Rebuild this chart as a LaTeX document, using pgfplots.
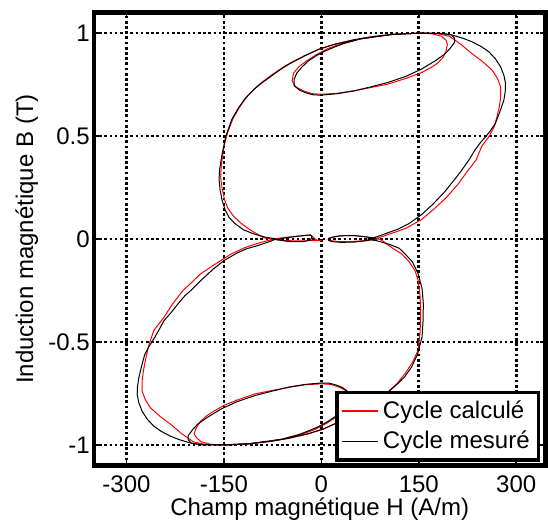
\documentclass[border=0pt]{standalone}
\usepackage{fontspec}
\setmainfont{Liberation Sans}
\usepackage{pgfplots}
\pgfplotsset{compat=1.18}
\definecolor{mred}{RGB}{255,0,0}
\begin{document}
\fontsize{18}{21.6}\selectfont
\begin{tikzpicture}
\useasboundingbox (-70.5pt,-41.6pt) rectangle (340.5pt,349.15pt);
\begin{axis}[
  at={(0pt,0pt)}, anchor=south west,
  scale only axis, width=338.6pt, height=339.75pt,
  xmin=-350, xmax=345, ymin=-1.1, ymax=1.1,
  axis line style={line width=3.3pt, black},
  tick align=inside, major tick length=4pt,
  tick style={black, line width=1.2pt},
  xtick={-300,-150,0,150,300}, xticklabels={-300,-150,0,150,300},
  ytick={-1,-0.5,0,0.5,1}, yticklabels={-1,-0.5,0,0.5,1},
  xticklabel style={inner sep=0pt, yshift=-7.1pt},
  yticklabel style={inner sep=0pt, xshift=-3pt},
  grid=major,
  major grid style={black, line width=2pt, dash pattern=on 2pt off 1.9pt},
  xlabel={Champ magnétique H (A/m)},
  ylabel={Induction magnétique B (T)},
  xlabel style={at={(axis description cs:0.5,0)}, anchor=base, yshift=-37.1pt},
  ylabel style={at={(axis description cs:-0.149,0.5)}, anchor=center},
  legend style={at={(rel axis cs:0.988,0.0088)}, anchor=south east,
    draw=black, line width=2.4pt, fill=white,
    nodes={inner sep=3.6pt}},
  legend cell align=left,
  legend image code/.code={\draw[#1, line width=0.8pt] (0pt,0pt) -- (27pt,0pt);},
]
% ---------------- Cycle calcule (red) ----------------
\addplot[mred, line width=0.75pt, line join=round] coordinates {
(-75,0.0) (-89,0.006) (-110,0.045) (-123,0.075) (-135,0.11) (-144,0.15)
(-149,0.19) (-153,0.25) (-155,0.3) (-154,0.36) (-150,0.45) (-144,0.52)
(-136,0.585) (-126,0.64) (-115,0.69) (-103,0.73) (-90,0.765) (-75,0.8)
(-60,0.832) (-45,0.86) (-25,0.892) (-5,0.92) (20,0.946) (50,0.968)
(80,0.984) (110,0.994) (150,1.0) (180,0.997) (197,0.985) (206,0.965)
(215,0.945) (232,0.9) (248,0.862) (263,0.82) (271,0.78) (276,0.739)
(276,0.69) (274,0.642) (270,0.59) (266,0.545) (258,0.497) (247,0.451)
(238,0.383) (225,0.33) (210,0.265) (192,0.2) (173,0.145) (154,0.094)
(130,0.052) (112,0.032) (102,0.021) (88,0.006) (80,0.0)
(88,0.0) (70,0.01) (52,0.016) (35,0.017) (22,0.012) (12,0.003) (11,-0.006)
(25,-0.012) (50,-0.012) (70,-0.006) (88,0.0)
(93,-0.006) (110,-0.045) (124,-0.073) (135,-0.11) (144,-0.153) (149,-0.2)
(152,-0.28) (153,-0.36) (152,-0.45) (149,-0.54) (140,-0.6) (129,-0.653)
(117,-0.7) (103,-0.742) (90,-0.77) (75,-0.8) (60,-0.832) (45,-0.86)
(25,-0.892) (5,-0.92) (-20,-0.946) (-50,-0.968) (-80,-0.984) (-110,-0.994)
(-150,-1.0) (-180,-0.997) (-197,-0.985) (-206,-0.965) (-215,-0.945)
(-232,-0.9) (-248,-0.862) (-263,-0.82) (-271,-0.78) (-276,-0.739)
(-276,-0.69) (-274,-0.642) (-271,-0.59) (-266,-0.52) (-258,-0.444)
(-243,-0.383) (-229,-0.315) (-213,-0.25) (-196,-0.2) (-186,-0.169)
(-165,-0.125) (-139,-0.073) (-118,-0.042) (-102,-0.025) (-88,-0.012)
(-77,-0.004) (-75,0.0)
(-58,0.007) (-40,0.013) (-25,0.017) (-16,0.018) (-12,0.008) (-8,-0.004)
(0,-0.008) (-15,-0.008) (-40,-0.009) (-60,-0.007) (-75,0.0)
};
\addlegendentry{Cycle calculé}
\addplot[mred, line width=0.75pt, line join=round, forget plot] coordinates {
(60,0.972) (110,0.994) (150,1.0) (170,0.997) (185,0.985) (192,0.965)
(194,0.945) (192,0.914) (188,0.885) (180,0.857) (170,0.835) (154,0.808)
(130,0.78) (102,0.752) (75,0.735) (50,0.72) (25,0.708) (0,0.703)
(-15,0.706) (-28,0.72) (-40,0.74) (-45,0.768) (-43,0.805) (-35,0.835)
(-25,0.86) (-8,0.895) (10,0.925) (30,0.948) (50,0.963) (60,0.972)
};
\addplot[mred, line width=0.75pt, line join=round, forget plot] coordinates {
(-60,-0.972) (-110,-0.994) (-150,-1.0) (-170,-0.997) (-185,-0.985)
(-192,-0.965) (-196,-0.945) (-192,-0.914) (-186,-0.885) (-176,-0.857)
(-165,-0.835) (-150,-0.808) (-128,-0.78) (-102,-0.752) (-75,-0.735)
(-50,-0.72) (-25,-0.708) (0,-0.703) (15,-0.706) (28,-0.72) (40,-0.74)
(45,-0.768) (43,-0.805) (35,-0.835) (25,-0.86) (8,-0.895) (-10,-0.925)
(-30,-0.948) (-50,-0.963) (-60,-0.972)
};
% ---------------- Cycle mesure (black) ----------------
\addplot[black, line width=0.75pt, line join=round] coordinates {
(-72,0.002) (-85,0.008) (-105,0.026) (-120,0.045) (-133,0.075) (-142,0.105)
(-148,0.14) (-153,0.19) (-156,0.24) (-157.5,0.29) (-156.5,0.34)
(-153,0.41) (-147,0.5) (-138,0.58) (-128,0.635) (-118,0.68) (-106,0.72)
(-95,0.75) (-82,0.78) (-69,0.81) (-55,0.84) (-40,0.866) (-22,0.895)
(-2,0.924) (20,0.945) (50,0.967) (80,0.983) (110,0.994) (150,1.0)
(185,0.998) (202,0.99) (218,0.975) (232,0.958) (246,0.935) (258,0.909)
(268,0.875) (276,0.836) (281,0.795) (283.5,0.756) (283,0.715) (281,0.675)
(275,0.62) (268,0.562) (260,0.525) (253,0.497) (244,0.465) (236,0.43)
(227,0.383) (215,0.33) (205,0.289) (190,0.23) (172,0.17) (154,0.118)
(135,0.075) (118,0.048) (102,0.03) (90,0.016) (80,0.006) (72,0.002)
(84,0.003) (70,0.01) (54,0.016) (40,0.017) (28,0.015) (18,0.01) (11,0.003)
(10.5,-0.004) (15,-0.012) (30,-0.016) (50,-0.015) (70,-0.008) (84,0.003)
(72,-0.002) (85,-0.008) (105,-0.026) (120,-0.045) (129,-0.073) (140,-0.11)
(149,-0.169) (155,-0.24) (157,-0.315) (156.5,-0.4) (155,-0.476)
(148,-0.56) (139,-0.621) (128,-0.67) (115,-0.71) (103,-0.742) (88,-0.775)
(72,-0.805) (55,-0.84) (40,-0.866) (22,-0.895) (2,-0.924) (-20,-0.945)
(-50,-0.967) (-80,-0.983) (-110,-0.994) (-150,-1.0) (-185,-0.998)
(-202,-0.99) (-218,-0.975) (-232,-0.958) (-246,-0.935) (-258,-0.909)
(-268,-0.875) (-276,-0.836) (-281,-0.795) (-283.5,-0.756) (-283,-0.715)
(-281,-0.675) (-277,-0.62) (-272,-0.562) (-265,-0.52) (-256,-0.475)
(-248,-0.43) (-242,-0.395) (-232,-0.36) (-222,-0.32) (-210,-0.275)
(-201,-0.25) (-185,-0.2) (-168,-0.15) (-150,-0.105) (-130,-0.068)
(-115,-0.047) (-98,-0.032) (-85,-0.018) (-76,-0.008) (-72,-0.002)
(-70,-0.003) (-55,0.006) (-40,0.012) (-25,0.018) (-17,0.02) (-14,0.012)
(-17,-0.006) (-30,-0.013) (-50,-0.012) (-70,-0.003) (-72,0.002)
};
\addlegendentry{Cycle mesuré}
\addplot[black, line width=0.75pt, line join=round, forget plot] coordinates {
(60,0.972) (110,0.994) (150,1.0) (185,0.999) (200,0.992) (205,0.975)
(205,0.955) (198,0.925) (190,0.898) (175,0.865) (154,0.825) (130,0.79)
(102,0.76) (75,0.738) (50,0.719) (25,0.706) (0,0.699) (-12,0.7)
(-22,0.708) (-33,0.722) (-42,0.745) (-42,0.775) (-38,0.805) (-30,0.835)
(-20,0.865) (-8,0.89) (5,0.912) (20,0.932) (35,0.95) (50,0.963) (60,0.972)
};
\addplot[black, line width=0.75pt, line join=round, forget plot] coordinates {
(-60,-0.972) (-110,-0.994) (-150,-1.0) (-185,-0.999) (-200,-0.992)
(-205,-0.975) (-205,-0.955) (-198,-0.925) (-190,-0.898) (-175,-0.865)
(-154,-0.825) (-130,-0.79) (-102,-0.76) (-75,-0.738) (-50,-0.719)
(-25,-0.706) (0,-0.699) (12,-0.7) (22,-0.708) (33,-0.722) (42,-0.745)
(42,-0.775) (38,-0.805) (30,-0.835) (20,-0.865) (8,-0.89) (-5,-0.912)
(-20,-0.932) (-35,-0.95) (-50,-0.963) (-60,-0.972)
};
\end{axis}
\end{tikzpicture}
\end{document}
